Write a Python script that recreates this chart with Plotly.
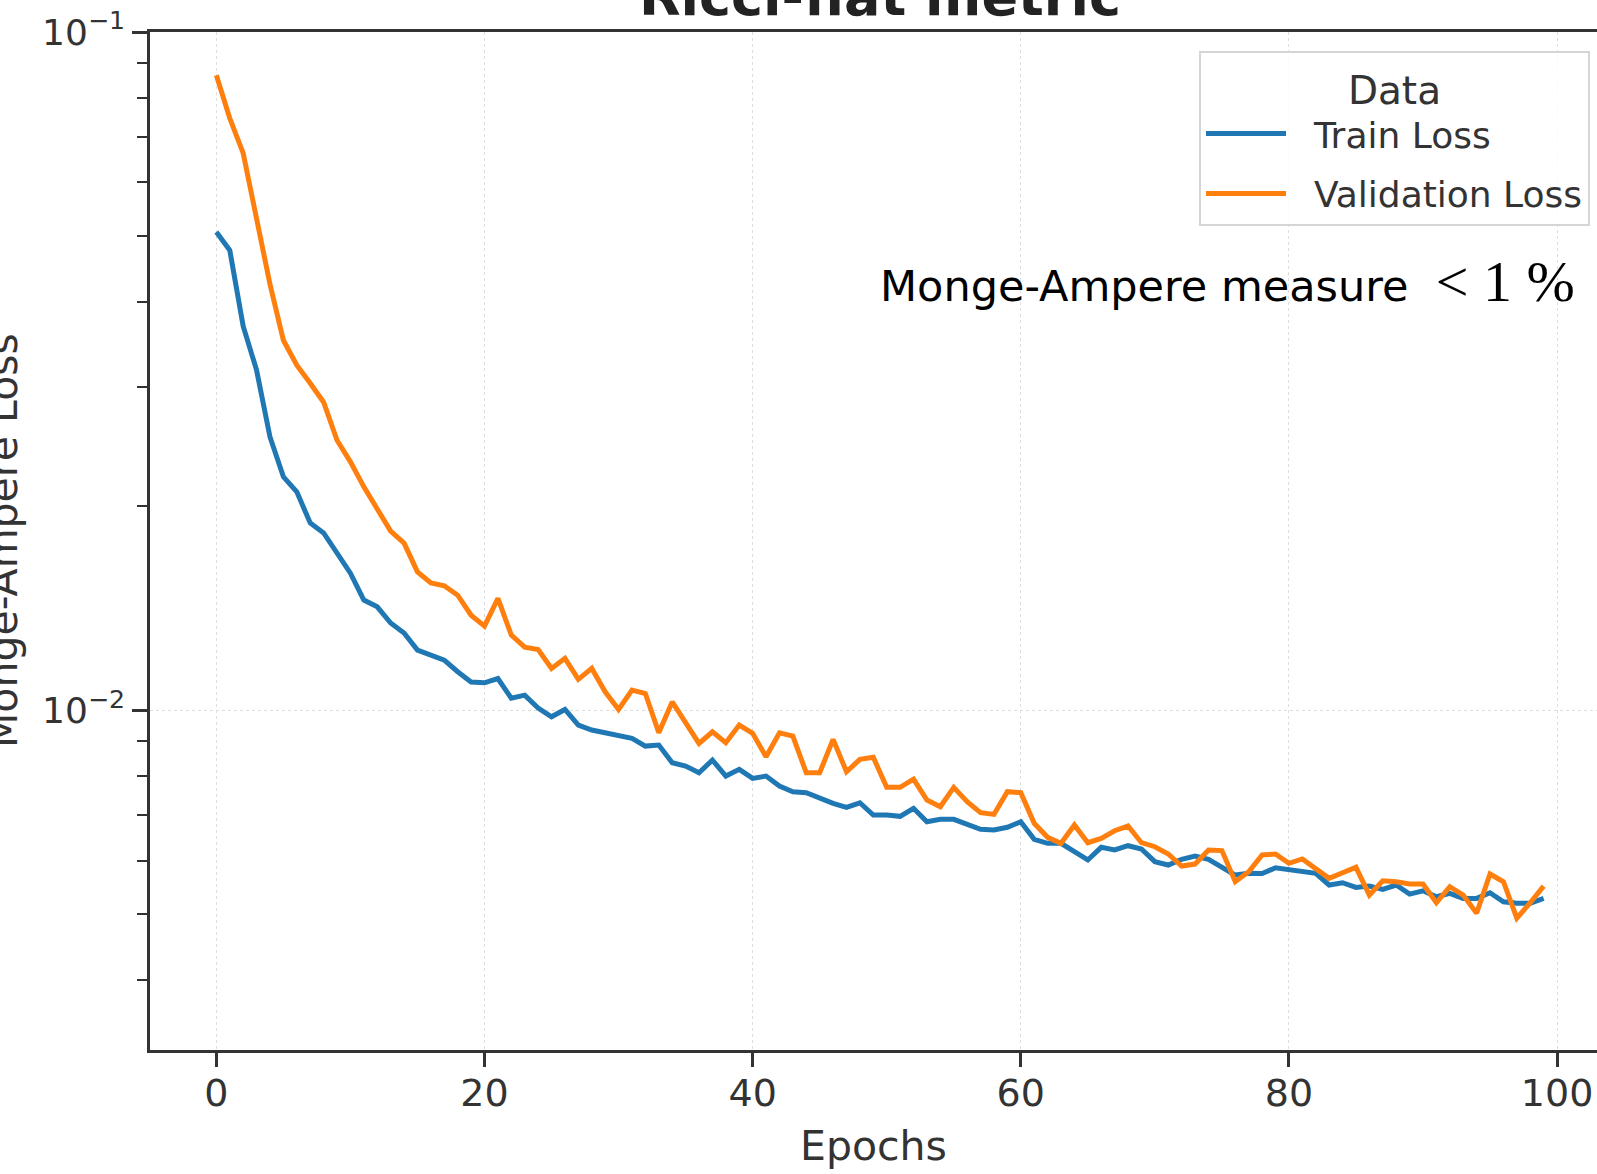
import plotly.graph_objects as go

epochs = list(range(100))

train_loss = [0.05070, 0.04767, 0.03683, 0.03172, 0.02528, 0.02208, 0.02098, 0.01888, 0.01825, 0.01704,
              0.01592, 0.01453, 0.01420, 0.01344, 0.01299, 0.01226, 0.01205, 0.01185, 0.01139, 0.01100,
              0.01097, 0.01113, 0.01041, 0.01052, 0.01007, 0.009775, 0.01002, 0.009504, 0.009344, 0.009258,
              0.009155, 0.009084, 0.008849, 0.008879, 0.008362, 0.008268, 0.008083, 0.008439, 0.007992, 0.008177,
              0.007930, 0.007992, 0.007727, 0.007579, 0.007553, 0.007410, 0.007286, 0.007188, 0.007300, 0.007002,
              0.007002, 0.006971, 0.007163, 0.006844, 0.006901, 0.006901, 0.006791, 0.006670, 0.006654, 0.006716,
              0.006844, 0.006448, 0.006361, 0.006361, 0.006182, 0.006011, 0.006275, 0.006218, 0.006309, 0.006239,
              0.005976, 0.005909, 0.006025, 0.006092, 0.006025, 0.005875, 0.005711, 0.005744, 0.005740, 0.005853,
              0.005823, 0.005796, 0.005744, 0.005521, 0.005564, 0.005477, 0.005501, 0.005440, 0.005521, 0.005353,
              0.005414, 0.005305, 0.005367, 0.005276, 0.005276, 0.005377, 0.005216, 0.005188, 0.005188, 0.005276]

val_loss = [0.08633, 0.07460, 0.06626, 0.05313, 0.04246, 0.03511, 0.03226, 0.03034, 0.02844, 0.02500,
            0.02323, 0.02134, 0.01985, 0.01836, 0.01763, 0.01599, 0.01540, 0.01525, 0.01477, 0.01380,
            0.01330, 0.01461, 0.01290, 0.01238, 0.01228, 0.01152, 0.01192, 0.01110, 0.01152, 0.01064,
            0.01002, 0.01070, 0.01058, 0.009258, 0.01028, 0.009579, 0.008931, 0.009290, 0.008950, 0.009504,
            0.009240, 0.008535, 0.009258, 0.009155, 0.008083, 0.008083, 0.009053, 0.008110, 0.008459, 0.008517,
            0.007692, 0.007692, 0.007912, 0.007368, 0.007202, 0.007692, 0.007326, 0.007057, 0.007018, 0.007579,
            0.007553, 0.006808, 0.006491, 0.006361, 0.006769, 0.006374, 0.006469, 0.006639, 0.006745, 0.006374,
            0.006288, 0.006134, 0.005888, 0.005928, 0.006218, 0.006206, 0.005583, 0.005776, 0.006113, 0.006134,
            0.005943, 0.006031, 0.005843, 0.005648, 0.005756, 0.005863, 0.005336, 0.005602, 0.005583, 0.005540,
            0.005540, 0.005198, 0.005489, 0.005336, 0.005016, 0.005731, 0.005583, 0.004932, 0.005198, 0.005501]

series_names = ["Train Loss", "Validation Loss"]
series_colors = ["#1f77b4", "#ff7f0e"]

x_ticks = [0, 20, 40, 60, 80, 100]
y_ticks = [0.1, 0.01]
y_tick_text = ["10<sup>\u22121</sup>", "10<sup>\u22122</sup>"]

title_text = "<b>Ricci-flat metric</b>"
x_title = "Epochs"
y_title = "Monge-Ampere Loss"
legend_title = "Data"
note_sans = "Monge-Ampere measure"
note_math = "&lt; 1 %"

# layout geometry (pixels)
W, H = 1597, 1174
L, R, T, B = 150, 0, 32, 124
plot_w = W - L - R
plot_h = H - T - B


def px_x(p):
    return (p - L) / plot_w


def px_y(p):
    return (H - B - p) / plot_h


FONT = "DejaVu Sans"
SERIF = "'Liberation Serif', 'DejaVu Serif', serif"
DARK = "#333333"
PAD = "\u00a0\u00a0"

fig = go.Figure()
for name, vals, col in zip(series_names, [train_loss, val_loss], series_colors):
    fig.add_trace(go.Scatter(x=epochs, y=vals, mode="lines", name=PAD + name,
                             legendgroup=name,
                             line=dict(color=col, width=5)))

note_text = (note_sans + "\u00a0\u00a0"
             + "<span style=\"font-family:" + SERIF + ";font-size:58px\">" + note_math + "</span>")

fig.update_layout(
    width=W, height=H,
    margin=dict(l=L, r=R, t=T, b=B, pad=0),
    paper_bgcolor="white", plot_bgcolor="white",
    font=dict(family=FONT, color=DARK),
    legend=dict(
        title=dict(text=legend_title, side="top center", font=dict(size=39, color=DARK)),
        font=dict(size=36, color=DARK),
        x=px_x(1199), y=px_y(51), xanchor="left", yanchor="top",
        bgcolor="rgba(255,255,255,0.8)", bordercolor="#d5d5d5", borderwidth=2,
        itemwidth=80, tracegroupgap=10,
    ),
    xaxis=dict(
        range=[-4.95, 102.98],
        tickmode="array", tickvals=x_ticks,
        ticks="outside", ticklen=14, tickwidth=2.5, tickcolor=DARK,
        tickfont=dict(size=38, color=DARK),
        ticklabelstandoff=-6,
        showline=True, linecolor=DARK, linewidth=2.5, mirror=True,
        showgrid=True, gridcolor="#dedede", gridwidth=1.3, griddash="dot",
        zeroline=False,
        title=dict(text=x_title, font=dict(size=41, color=DARK), standoff=17),
    ),
    yaxis=dict(
        type="log", range=[-2.5013, -1.0],
        tickmode="array", tickvals=y_ticks, ticktext=y_tick_text,
        ticks="outside", ticklen=15, tickwidth=2.5, tickcolor=DARK,
        tickfont=dict(size=36, color=DARK),
        showline=True, linecolor=DARK, linewidth=2.5, mirror=False,
        showgrid=True, gridcolor="#dedede", gridwidth=1.3, griddash="dot",
        zeroline=False,
        minor=dict(ticks="outside", ticklen=10, tickwidth=2, tickcolor=DARK,
                   dtick="D1", showgrid=False),
    ),
    annotations=[
        dict(text=title_text, xref="paper", yref="paper", x=px_x(880), y=px_y(30),
             xanchor="center", yanchor="bottom", showarrow=False,
             font=dict(size=54, color="#222222", family=FONT)),
        dict(text=y_title, xref="paper", yref="paper", x=px_x(3), y=px_y(541),
             xanchor="center", yanchor="middle", textangle=-90, showarrow=False,
             font=dict(size=41, color=DARK, family=FONT)),
        dict(text=note_text, xref="paper", yref="paper", x=px_x(878), y=px_y(281),
             xanchor="left", yanchor="middle", showarrow=False,
             font=dict(size=43, color="black", family=FONT)),
    ],
)

fig.write_html("out.html")
